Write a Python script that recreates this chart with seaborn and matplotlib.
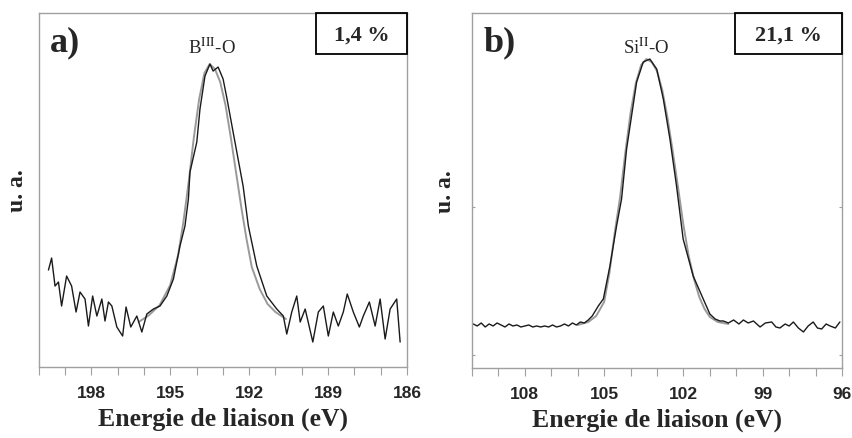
import numpy as np
import pandas as pd
import matplotlib
matplotlib.use('Agg')
import matplotlib.pyplot as plt
import seaborn as sns
from matplotlib.patches import Rectangle
from matplotlib.ticker import MultipleLocator

# =============================================================
# DATA (intensity in arbitrary units)
# =============================================================

# a) B 1s region - experimental spectrum
b_energy = [199.63, 199.51, 199.38, 199.25, 199.13, 198.94, 198.75, 198.58, 198.43, 198.24,
            198.11, 197.95, 197.79, 197.60, 197.48, 197.35, 197.22, 197.03, 196.81, 196.68,
            196.50, 196.27, 196.08, 195.89, 195.64, 195.39, 195.13, 194.88, 194.63, 194.44,
            194.31, 194.25, 193.99, 193.87, 193.68, 193.49, 193.37, 193.18, 192.99, 192.84,
            192.61, 192.42, 192.23, 192.03, 191.71, 191.33, 190.95, 190.70, 190.57, 190.38,
            190.19, 190.06, 189.87, 189.58, 189.37, 189.18, 188.99, 188.80, 188.61, 188.42,
            188.27, 188.04, 187.81, 187.66, 187.43, 187.21, 187.02, 186.83, 186.64, 186.39,
            186.26]
b_counts = [97, 109, 81, 85, 61, 91, 81, 55, 75, 68,
            41, 71, 51, 68, 46, 65, 61, 40, 31, 60,
            40, 51, 35, 53, 58, 61, 71, 88, 121, 141,
            168, 195, 225, 258, 291, 303, 296, 300, 288, 268,
            235, 208, 181, 141, 101, 71, 58, 51, 33, 55,
            71, 45, 58, 25, 55, 61, 31, 55, 41, 55,
            73, 55, 40, 51, 65, 41, 68, 28, 58, 68,
            25]

# a) fitted B(III)-O component
b_fit_energy = [196.2, 195.8, 195.4, 195.0, 194.7, 194.5, 194.3, 194.1, 193.9, 193.7,
                193.5, 193.3, 193.1, 192.9, 192.7, 192.5, 192.3, 192.1, 191.9, 191.6,
                191.3, 191.0, 190.6]
b_fit_counts = [45, 52, 62, 82, 112, 145, 185, 230, 268, 294,
                303, 298, 285, 262, 230, 195, 160, 128, 100, 78,
                63, 55, 48]

# b) Si 2p region - experimental spectrum
si_energy = [109.95, 109.80, 109.65, 109.50, 109.35, 109.20, 109.05, 108.90, 108.75, 108.60,
             108.45, 108.30, 108.15, 108.00, 107.85, 107.70, 107.55, 107.40, 107.25, 107.10,
             106.95, 106.80, 106.65, 106.50, 106.35, 106.20, 106.05, 105.90, 105.75, 105.60,
             105.45, 105.22, 105.03, 104.78, 104.53, 104.34, 104.15, 103.77, 103.52, 103.27,
             103.01, 102.76, 102.51, 102.26, 102.01, 101.63, 101.25, 101.00, 100.80, 100.62,
             100.49, 100.30, 100.10, 99.90, 99.73, 99.55, 99.35, 99.10, 98.90, 98.66,
             98.50, 98.35, 98.15, 98.00, 97.84, 97.65, 97.46, 97.28, 97.09, 96.93,
             96.77, 96.60, 96.45, 96.25, 96.08]
si_counts = [44, 42, 45, 41, 44, 42, 45, 43, 41, 44,
             42, 43, 41, 42, 43, 41, 42, 41, 42, 41,
             43, 41, 42, 44, 42, 45, 43, 46, 45, 48,
             52, 62, 69, 102, 142, 169, 219, 286, 306, 309,
             299, 269, 229, 182, 129, 92, 69, 54, 49, 47,
             47, 45, 48, 44, 48, 45, 47, 41, 45, 46,
             41, 40, 44, 42, 46, 40, 36, 42, 46, 40,
             39, 44, 42, 40, 46]

# b) fitted Si(II)-O component
si_fit_energy = [106.0, 105.6, 105.3, 105.0, 104.8, 104.6, 104.4, 104.2, 104.0, 103.8,
                 103.6, 103.4, 103.2, 103.0, 102.8, 102.6, 102.4, 102.2, 102.0, 101.8,
                 101.6, 101.4, 101.2, 101.0, 100.7, 100.3]
si_fit_counts = [43, 46, 52, 66, 95, 135, 170, 215, 255, 285,
                 303, 309, 306, 297, 278, 250, 216, 180, 143, 112,
                 89, 71, 59, 51, 46, 44]

panels = [
    dict(tag='a)', peak=r'B$^{\mathrm{III}}$-O', share='1,4 %', xlim=(200, 186), ylim=(0, 354),
         data=(b_energy, b_counts), fit=(b_fit_energy, b_fit_counts), boxw=0.247, yticks=[]),
    dict(tag='b)', peak=r'Si$^{\mathrm{II}}$-O', share='21,1 %', xlim=(110, 96), ylim=(0, 355),
         data=(si_energy, si_counts), fit=(si_fit_energy, si_fit_counts), boxw=0.289, yticks=[13, 161]),
]

# =============================================================
# PLOT
# =============================================================

sns.set_style('white')
plt.rcParams['font.family'] = ['Liberation Serif', 'DejaVu Serif']
plt.rcParams['mathtext.fontset'] = 'stix'

fig = plt.figure(figsize=(8.53, 4.39), dpi=100)
axes = [fig.add_axes([0.0454, 0.1617, 0.4317, 0.8063]),
        fig.add_axes([0.5533, 0.1595, 0.4338, 0.8085])]

spine_col = '#a0a0a0'
for ax, p in zip(axes, panels):
    df_data = pd.DataFrame({'E': p['data'][0], 'I': p['data'][1]})
    df_fit = pd.DataFrame({'E': p['fit'][0], 'I': p['fit'][1]})
    sns.lineplot(data=df_fit, x='E', y='I', ax=ax, color='#9a9a9a', lw=1.4, estimator=None)
    sns.lineplot(data=df_data, x='E', y='I', ax=ax, color='#1a1a1a', lw=1.0, estimator=None)

    ax.set_xlim(*p['xlim'])
    ax.set_ylim(*p['ylim'])
    ax.xaxis.set_major_locator(MultipleLocator(3))
    ax.xaxis.set_minor_locator(MultipleLocator(1))
    ax.tick_params(axis='x', which='both', bottom=True, direction='out', length=6,
                   width=0.8, color=spine_col, pad=7)
    for lab in ax.get_xticklabels():
        lab.set_fontfamily('Liberation Sans')
        lab.set_fontweight('bold')
        lab.set_fontsize(12.5)
    ax.set_yticks(p['yticks'])
    ax.set_yticklabels([])
    ax.tick_params(axis='y', left=True, right=True, direction='in', length=2,
                   width=0.8, color=spine_col)
    for s in ax.spines.values():
        s.set_color(spine_col)
        s.set_linewidth(1.0)

    ax.set_xlabel('Energie de liaison (eV)', fontsize=18.5, fontweight='bold', labelpad=5)
    ax.set_ylabel('u. a.', fontsize=17, fontweight='bold', labelpad=8)

    ax.text(0.03, 0.92, p['tag'], transform=ax.transAxes, fontsize=26,
            fontweight='bold', ha='left', va='center')
    ax.text(0.47, 0.905, p['peak'], transform=ax.transAxes, fontsize=13.5,
            ha='center', va='center')
    ax.add_patch(Rectangle((1 - p['boxw'], 1 - 0.116), p['boxw'], 0.116,
                           transform=ax.transAxes, fill=False, ec='black', lw=1.3,
                           clip_on=False, zorder=5))
    ax.text(1 - p['boxw'] / 2, 1 - 0.06, p['share'], transform=ax.transAxes,
            fontsize=16, fontweight='bold', ha='center', va='center')

fig.savefig('out.png', dpi=100)
